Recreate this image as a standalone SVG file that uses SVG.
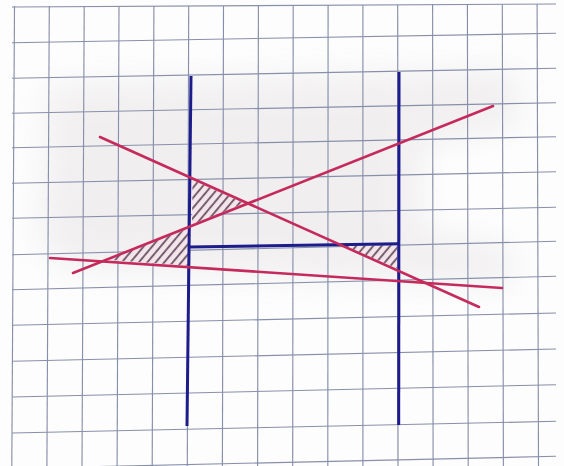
<svg xmlns="http://www.w3.org/2000/svg" width="564" height="466" viewBox="0 0 564 466">
  <defs>
    <style>
      .grid line { stroke: #8790aa; stroke-width: 1.15; }
      .blue { stroke: #1d1c8c; stroke-width: 3; fill: none; stroke-linecap: butt; }
      .red { stroke: #c52a5c; stroke-width: 2.6; fill: none; stroke-linecap: round; }
      .hatch { fill: url(#hatch); stroke: none; }
    </style>
    <pattern id="hatch" width="6.5" height="6.5" patternUnits="userSpaceOnUse" patternTransform="rotate(40)">
      <rect width="6.5" height="6.5" fill="#f3e6ea"/>
      <line x1="2" y1="0" x2="2" y2="6.5" stroke="#6a5064" stroke-width="1.8"/>
    </pattern>
    <filter id="blur" x="-20%" y="-20%" width="140%" height="140%">
      <feGaussianBlur stdDeviation="16"/>
    </filter>
  </defs>

  <rect width="564" height="466" fill="#fdfdfd"/>

  <g id="shadow" filter="url(#blur)" opacity="0.3">
    <polygon points="50,85 515,70 520,125 420,145 420,230 515,250 510,285 70,268 40,245" fill="#d6cfd0"/>
  </g>

  <g id="grid" class="grid">
    <line x1="14.5" y1="6" x2="11.8" y2="466"/>
    <line x1="49.3" y1="6" x2="46.9" y2="466"/>
    <line x1="84.2" y1="6" x2="82.0" y2="466"/>
    <line x1="119.0" y1="6" x2="117.1" y2="466"/>
    <line x1="153.9" y1="6" x2="152.2" y2="466"/>
    <line x1="188.7" y1="6" x2="187.3" y2="466"/>
    <line x1="223.5" y1="6" x2="222.4" y2="466"/>
    <line x1="258.4" y1="5" x2="257.6" y2="466"/>
    <line x1="293.2" y1="5" x2="292.7" y2="466"/>
    <line x1="328.1" y1="5" x2="327.8" y2="466"/>
    <line x1="362.9" y1="5" x2="362.9" y2="466"/>
    <line x1="397.7" y1="5" x2="398.0" y2="466"/>
    <line x1="432.6" y1="4" x2="433.1" y2="466"/>
    <line x1="467.4" y1="4" x2="468.2" y2="466"/>
    <line x1="502.3" y1="4" x2="503.4" y2="466"/>
    <line x1="537.1" y1="4" x2="538.5" y2="466"/>

    <line x1="12" y1="7" x2="556" y2="4"/>
    <line x1="12" y1="42.7" x2="556" y2="33.3"/>
    <line x1="12" y1="78.3" x2="556" y2="68.3"/>
    <line x1="12" y1="113.3" x2="556" y2="102.7"/>
    <line x1="12" y1="147.7" x2="556" y2="136.7"/>
    <line x1="12" y1="183.3" x2="556" y2="171.7"/>
    <line x1="12" y1="218.3" x2="556" y2="207.3"/>
    <line x1="12" y1="254.7" x2="556" y2="241.3"/>
    <line x1="12" y1="289.7" x2="556" y2="276.3"/>
    <line x1="12" y1="325.3" x2="556" y2="313"/>
    <line x1="12" y1="361.3" x2="556" y2="349"/>
    <line x1="12" y1="397" x2="556" y2="384.7"/>
    <line x1="12" y1="433" x2="556" y2="421.3"/>
    <line x1="12" y1="468.5" x2="556" y2="456.3"/>
  </g>

  <g id="hatched-regions">
    <polygon id="region-1" class="hatch" points="192.5,180 244,203.3 192,224.5"/>
    <polygon id="region-2" class="hatch" points="107,259.8 188.5,228.5 187.5,265.5"/>
    <polygon id="region-3" class="hatch" points="345,246 397.2,245.3 397.2,268.5"/>
  </g>

  <g id="connectors">
    <line id="blue-left" class="blue" x1="191" y1="76" x2="187" y2="426"/>
    <line id="blue-right" class="blue" x1="399" y1="72" x2="398.7" y2="425"/>
    <line id="blue-bar" class="blue" x1="190" y1="247" x2="399" y2="243.7"/>
    <line id="red-a" class="red" x1="100" y1="137" x2="479" y2="307"/>
    <line id="red-b" class="red" x1="73" y1="273" x2="493" y2="106"/>
    <line id="red-c" class="red" x1="50" y1="258" x2="502" y2="288"/>
  </g>
</svg>
